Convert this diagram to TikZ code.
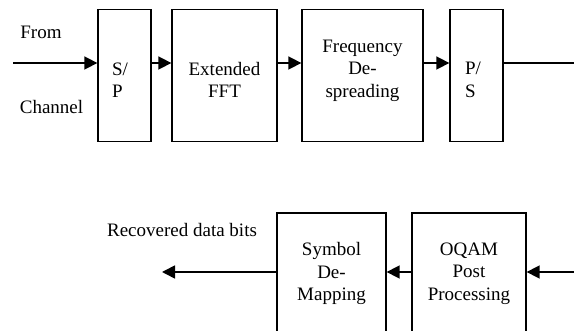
\documentclass[tikz,border=0pt]{standalone}
\usepackage{fontspec}
\setmainfont{Liberation Serif}
\usetikzlibrary{arrows.meta}

\begin{document}
\begin{tikzpicture}[x = 1pt, y = -1pt,
	box/.style = {draw, line width = 1.3pt, minimum height = 132pt, inner sep = 0pt},
	txt/.style = {align = center, inner sep = 0pt, font = \fontsize{19}{22.5}\selectfont},
	arr/.style = {line width = 1.6pt, -{Triangle[length = 13pt, width = 13pt]}},
	wire/.style = {line width = 1.6pt}]
	\useasboundingbox (0 ,0) rectangle (574 ,331);
	\begin{scope}
		\clip (0 ,0) rectangle (574 ,331);
		\node [box, minimum width = 53pt] (sp) at (124.5 ,75.5) {};
		\node [box, minimum width = 105pt] (fft) at (224.5 ,75.5) {};
		\node [box, minimum width = 121pt] (freq) at (362.5 ,75.5) {};
		\node [box, minimum width = 53pt] (ps) at (476.5 ,75.5) {};
		\node [box, minimum width = 109pt] (sym) at (331.5 ,279) {};
		\node [box, minimum width = 114pt] (oqam) at (469 ,279) {};
		\node [txt, align = left] (sptxt) at (120 ,80) {S/\\P};
		\node [txt] (ffttxt) at (224.5 ,80) {Extended\\FFT};
		\node [txt] (freqtxt) at (362.5 ,70.5) {Frequency\\De-\\spreading};
		\node [txt, align = left] (pstxt) at (473 ,80) {P/\\S};
		\node [txt] (symtxt) at (331.5 ,273.5) {Symbol\\De-\\Mapping};
		\node [txt] (oqamtxt) at (469 ,273.5) {OQAM\\Post\\Processing};
		\node [txt] (from) at (41 ,32) {From};
		\node [txt] (chan) at (51.5 ,107) {Channel};
		\node [txt] (rec) at (182 ,230) {Recovered data bits};
		\coordinate (in) at (13 ,63);
		\coordinate (out) at (574 ,63);
		\coordinate (back) at (574 ,272);
		\coordinate (bits) at (162 ,272);
		\draw [arr] (in) -- (in -| sp.west);
		\draw [arr] (sp.east |- in) -- (fft.west |- in);
		\draw [arr] (fft.east |- in) -- (freq.west |- in);
		\draw [arr] (freq.east |- in) -- (ps.west |- in);
		\draw [wire] (ps.east |- out) -- (out);
		\draw [arr] (back) -- (back -| oqam.east);
		\draw [arr] (oqam.west |- back) -- (sym.east |- back);
		\draw [arr] (sym.west |- bits) -- (bits);
	\end{scope}
\end{tikzpicture}
\end{document}
